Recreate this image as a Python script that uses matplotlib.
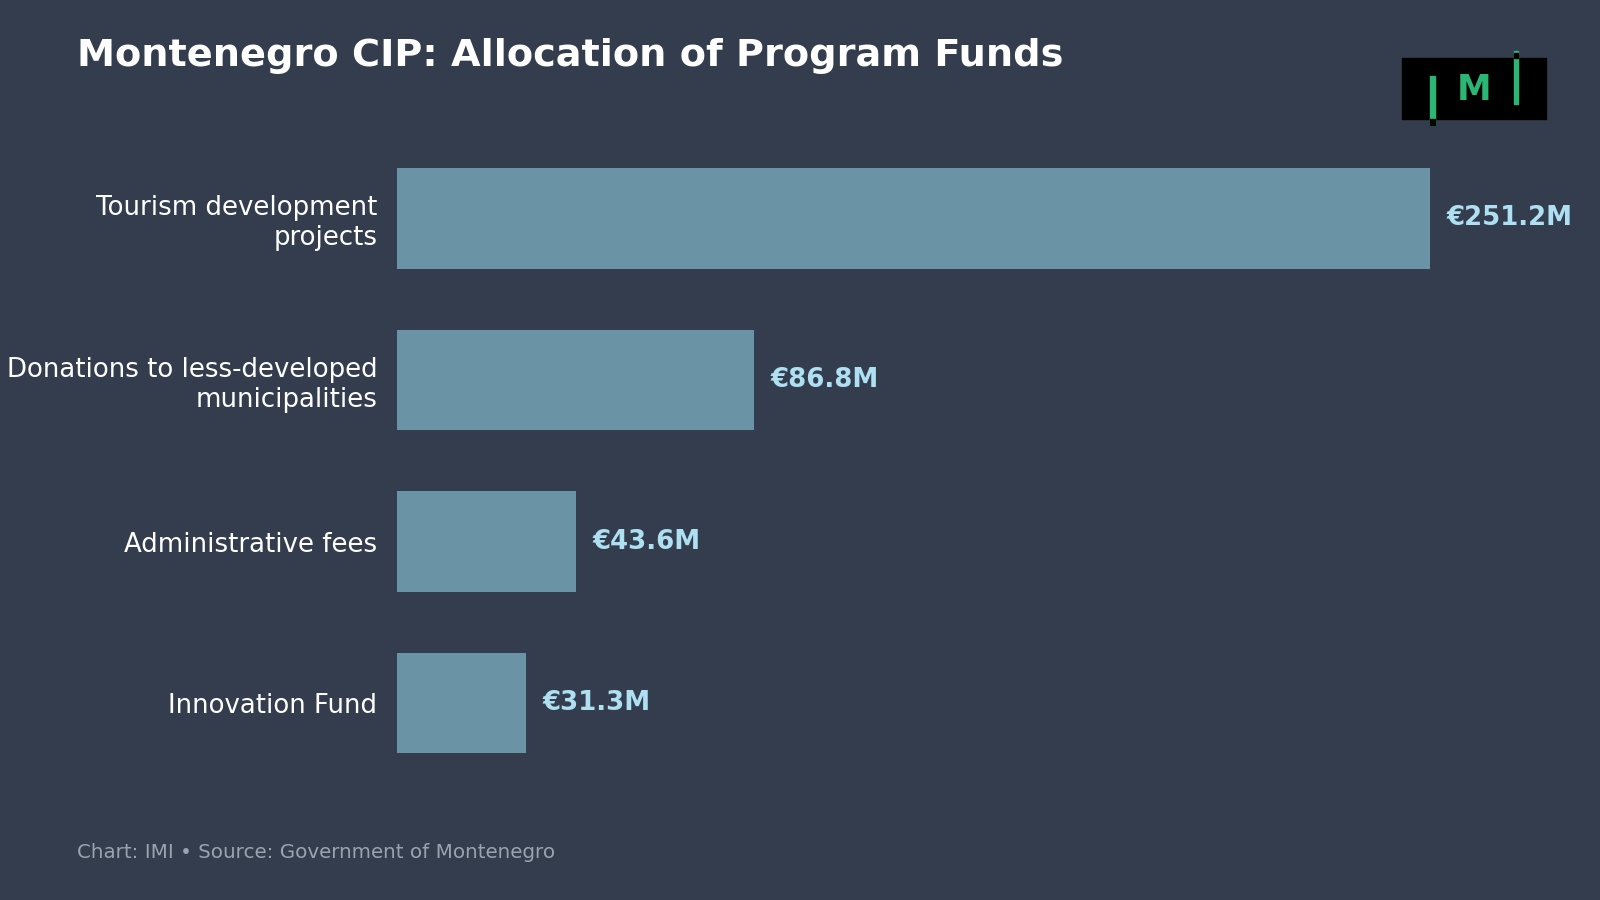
import matplotlib
matplotlib.use("Agg")
import matplotlib.pyplot as plt
from matplotlib.patches import Rectangle

categories = ["Tourism development\nprojects", "Donations to less-developed\nmunicipalities", "Administrative fees", "Innovation Fund"]
values = [251.2, 86.8, 43.6, 31.3]
value_labels = ["€251.2M", "€86.8M", "€43.6M", "€31.3M"]

BG = "#343d4d"
fig = plt.figure(figsize=(16, 9), dpi=100, facecolor=BG)
ax = fig.add_axes([0.248, 0.129, 0.712, 0.718], facecolor=BG)
ys = list(range(len(values)))[::-1]
ax.barh(ys, values, height=0.62, color="#6b93a6")
ax.set_xlim(0, 277)
ax.set_ylim(-0.5, 3.5)
for y, v, l in zip(ys, values, value_labels):
    ax.text(v + 4, y, l, va="center", ha="left", color="#aee0f2", fontsize=18.7, fontweight="bold")
ax.set_yticks(ys)
ax.set_yticklabels(categories, fontsize=18.7, color="white", linespacing=1.2)
ax.tick_params(axis="y", length=0, pad=14)
ax.set_xticks([])
for s in ax.spines.values():
    s.set_visible(False)

fig.text(0.048, 0.938, "Montenegro CIP: Allocation of Program Funds", color="white", fontsize=27.5, fontweight="bold", va="center")
fig.text(0.048, 0.053, "Chart: IMI • Source: Government of Montenegro", color="#9aa3ae", fontsize=14.3, va="center")

# logo
lax = fig.add_axes([0.876, 0.868, 0.09, 0.068])
lax.set_xlim(0, 1); lax.set_ylim(0, 1); lax.axis("off")
lax.add_patch(Rectangle((0, 0), 1, 1, color="black", clip_on=False))
lax.add_patch(Rectangle((0.2, -0.1), 0.03, 0.8, color="#2cb673", clip_on=False))
lax.add_patch(Rectangle((0.2, -0.1), 0.03, 0.1, color="black", clip_on=False))
lax.add_patch(Rectangle((0.78, 0.25), 0.03, 0.85, color="#2cb673", clip_on=False))
lax.add_patch(Rectangle((0.78, 1.0), 0.03, 0.08, color="black", clip_on=False))
lax.text(0.5, 0.47, "M", color="#2cb673", fontsize=25, fontweight="bold", ha="center", va="center")

fig.savefig("out.png", facecolor=BG)
